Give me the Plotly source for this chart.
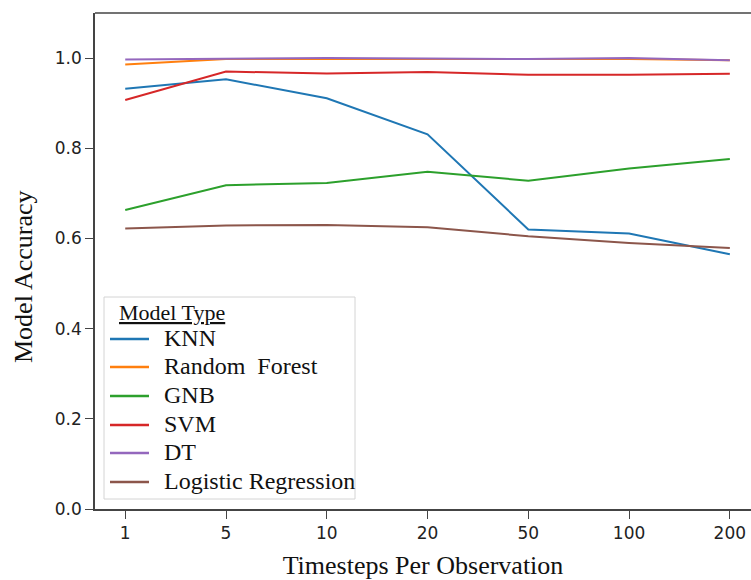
import plotly.graph_objects as go

timesteps = ["1", "5", "10", "20", "50", "100", "200"]
knn = [0.932, 0.953, 0.911, 0.831, 0.620, 0.611, 0.565]
random_forest = [0.986, 0.998, 0.998, 0.998, 0.997, 0.998, 0.995]
gnb = [0.663, 0.718, 0.723, 0.748, 0.728, 0.755, 0.776]
svm = [0.907, 0.970, 0.966, 0.969, 0.963, 0.963, 0.965]
dt = [0.997, 0.999, 1.000, 0.999, 0.998, 1.000, 0.995]
logistic = [0.622, 0.629, 0.630, 0.625, 0.605, 0.590, 0.579]

series = [
    ("KNN", knn, "#1f77b4"),
    ("Random  Forest", random_forest, "#ff7f0e"),
    ("GNB", gnb, "#2ca02c"),
    ("SVM", svm, "#d62728"),
    ("DT", dt, "#9467bd"),
    ("Logistic Regression", logistic, "#8c564b"),
]

serif = "Liberation Serif, Times New Roman, serif"
W, H = 751, 580
ML, MR, MT, MB = 95, 0, 13, 71
PW, PH = W - ML - MR, H - MT - MB


def px_x(px):
    return (px - ML) / PW


def px_y(py):
    return (H - MB - py) / PH


fig = go.Figure()
for name, vals, color in series:
    fig.add_trace(go.Scatter(x=timesteps, y=vals, mode="lines", name=name,
                             line=dict(color=color, width=2), showlegend=False))

fig.update_layout(
    width=W, height=H,
    margin=dict(l=ML, r=MR, t=MT, b=MB),
    plot_bgcolor="white", paper_bgcolor="white",
    xaxis=dict(type="category", range=[-0.3, 6.21], showgrid=False, zeroline=False,
               automargin=False,
               showline=True, linecolor="#444", linewidth=1.5,
               ticks="outside", ticklen=8, tickcolor="#444",
               tickfont=dict(family="DejaVu Sans", size=17, color="#222"),
               title=dict(text="Timesteps Per Observation",
                          font=dict(family=serif, size=26, color="#111"),
                          standoff=14)),
    yaxis=dict(range=[0, 1.1], tickvals=[0, 0.2, 0.4, 0.6, 0.8, 1.0],
               ticktext=["0.0", "0.2", "0.4", "0.6", "0.8", "1.0"],
               showgrid=False, zeroline=False, automargin=False,
               showline=True, linecolor="#444", linewidth=1.5,
               ticks="outside", ticklen=8, tickcolor="#444",
               tickfont=dict(family="DejaVu Sans", size=17, color="#222")),
    showlegend=False,
)
# y-axis label
fig.add_annotation(xref="paper", yref="paper", x=px_x(23), y=px_y(277),
                   text="Model Accuracy", textangle=-90, showarrow=False,
                   xanchor="center", yanchor="middle",
                   font=dict(family=serif, size=26, color="#111"))
# top spine
fig.add_shape(type="line", xref="paper", yref="paper", x0=0, x1=1, y0=1, y1=1,
              line=dict(color="#444", width=1.5))

# legend box (matplotlib style)
fig.add_shape(type="rect", xref="paper", yref="paper",
              x0=px_x(104), x1=px_x(355), y0=px_y(499), y1=px_y(297),
              line=dict(color="#d4d4d4", width=1), fillcolor="white", layer="above")
fig.add_annotation(xref="paper", yref="paper", x=px_x(172), y=px_y(312),
                   text="<u>Model Type</u>", showarrow=False,
                   xanchor="center", yanchor="middle",
                   font=dict(family=serif, size=22, color="#111"))
item_y = [339, 367, 396, 425, 453, 482]
for (name, vals, color), iy in zip(series, item_y):
    fig.add_shape(type="line", xref="paper", yref="paper",
                  x0=px_x(110), x1=px_x(149), y0=px_y(iy), y1=px_y(iy),
                  line=dict(color=color, width=2.5), layer="above")
    fig.add_annotation(xref="paper", yref="paper", x=px_x(162), y=px_y(iy - 1),
                       text=name, showarrow=False, xanchor="left", yanchor="middle",
                       font=dict(family=serif, size=24, color="#111"))

fig.write_html("out.html", config={"displayModeBar": False},
               post_script="document.body.style.margin='0';document.body.style.overflow='hidden';")
